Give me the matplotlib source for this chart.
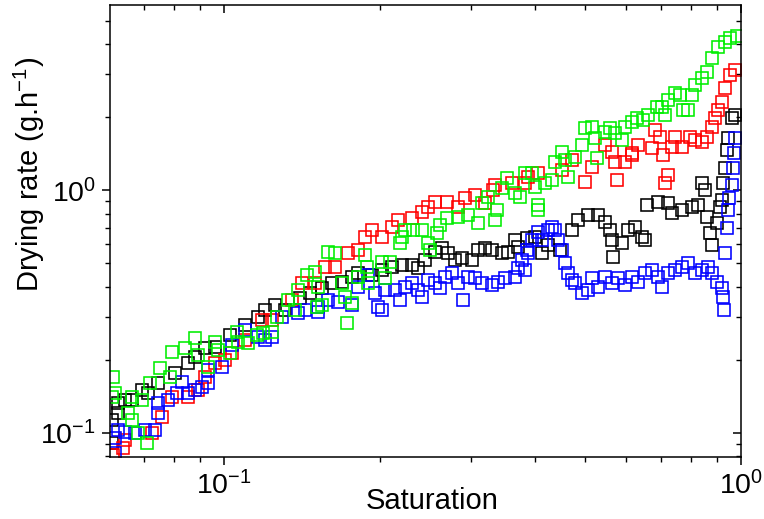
import matplotlib
matplotlib.use("Agg")
import matplotlib.pyplot as plt
from matplotlib.ticker import LogLocator, NullFormatter, FixedLocator

plt.rcParams['font.family'] = ['Liberation Sans', 'DejaVu Sans']
plt.rcParams['mathtext.fontset'] = 'custom'
plt.rcParams['mathtext.rm'] = 'Liberation Sans'
plt.rcParams['mathtext.it'] = 'Liberation Sans:italic'
plt.rcParams['mathtext.bf'] = 'Liberation Sans:bold'

# ---- data (Saturation, drying rate g/h) ----
black_s = [0.0607, 0.0607, 0.0624, 0.0624, 0.0644, 0.0664, 0.0694, 0.0713, 0.0746, 0.0804,
           0.0852, 0.0879, 0.0919, 0.0961, 0.1027, 0.1098, 0.1164, 0.1200, 0.1256, 0.1313,
           0.1403, 0.1467, 0.1548, 0.1618, 0.1692, 0.1769, 0.1817, 0.1934, 0.2022, 0.2113,
           0.2210, 0.2311, 0.2373, 0.2448, 0.2559, 0.2640, 0.2713, 0.2799, 0.2887, 0.3018,
           0.3100, 0.3198, 0.3299, 0.3450, 0.3543, 0.3655, 0.3704, 0.3856, 0.3996, 0.4122,
           0.4234, 0.4467, 0.4711, 0.4839, 0.5058, 0.5288, 0.5458, 0.5580, 0.5630, 0.5655,
           0.5888, 0.6046, 0.6237, 0.6435, 0.6521, 0.6580, 0.6911, 0.7224, 0.7355, 0.7690,
           0.8037, 0.8255, 0.8405, 0.8518, 0.8593, 0.8710, 0.8788, 0.8987, 0.9108, 0.9190,
           0.9230, 0.9313, 0.9395, 0.9438, 0.9607, 0.9736]
black_r = [0.113, 0.091, 0.121, 0.133, 0.137, 0.137, 0.150, 0.146, 0.161, 0.177,
           0.194, 0.206, 0.224, 0.226, 0.253, 0.278, 0.300, 0.321, 0.336, 0.321,
           0.359, 0.377, 0.395, 0.414, 0.418, 0.439, 0.456, 0.447, 0.469, 0.482,
           0.491, 0.491, 0.478, 0.515, 0.556, 0.577, 0.551, 0.515, 0.525, 0.515,
           0.566, 0.577, 0.566, 0.551, 0.556, 0.623, 0.583, 0.635, 0.641, 0.551,
           0.594, 0.566, 0.684, 0.753, 0.789, 0.789, 0.739, 0.684, 0.623, 0.530,
           0.605, 0.684, 0.704, 0.641, 0.623, 0.868, 0.893, 0.884, 0.804, 0.827,
           0.851, 0.868, 1.069, 1.000, 0.774, 0.665, 0.594, 0.731, 0.851, 0.910,
           1.069, 1.232, 1.461, 1.637, 1.978, 2.035]

red_s = [0.0610, 0.0638, 0.0644, 0.0726, 0.0759, 0.0794, 0.0852, 0.0891, 0.0919, 0.0961,
         0.1005, 0.1037, 0.1098, 0.1185, 0.1239, 0.1354, 0.1416, 0.1500, 0.1569, 0.1640,
         0.1737, 0.1817, 0.1874, 0.1934, 0.2022, 0.2113, 0.2171, 0.2311, 0.2416, 0.2481,
         0.2559, 0.2701, 0.2836, 0.2926, 0.3059, 0.3198, 0.3314, 0.3344, 0.3607, 0.3822,
         0.3873, 0.4050, 0.4506, 0.4711, 0.4991, 0.5149, 0.5458, 0.5630, 0.5705, 0.5757,
         0.5967, 0.6154, 0.6154, 0.6321, 0.6729, 0.6820, 0.6972, 0.7066, 0.7129, 0.7224,
         0.7355, 0.7455, 0.7690, 0.7967, 0.8147, 0.8405, 0.8593, 0.8788, 0.8906, 0.9027,
         0.9190, 0.9313, 0.9522, 0.9736]
red_r = [0.0812, 0.0868, 0.0936, 0.100, 0.116, 0.141, 0.141, 0.150, 0.170, 0.194,
         0.200, 0.213, 0.241, 0.292, 0.292, 0.353, 0.414, 0.414, 0.482, 0.482,
         0.551, 0.566, 0.641, 0.684, 0.641, 0.704, 0.753, 0.767, 0.812, 0.851,
         0.893, 0.893, 0.851, 0.927, 0.954, 0.884, 1.000, 1.048, 1.069, 1.069,
         1.131, 1.175, 1.209, 1.329, 1.079, 1.243, 1.532, 1.433, 1.304, 1.099,
         1.304, 1.420, 1.393, 1.532, 1.489, 1.766, 1.653, 1.393, 1.069, 1.153,
         1.503, 1.653, 1.503, 1.653, 1.606, 1.576, 1.653, 1.816, 1.978, 2.134,
         2.302, 2.629, 2.973, 3.117]

green_s = [0.0607, 0.0610, 0.0616, 0.0653, 0.0664, 0.0664, 0.0682, 0.0694, 0.0710, 0.0719,
           0.0752, 0.0787, 0.0794, 0.0841, 0.0879, 0.0891, 0.0932, 0.0961, 0.0974, 0.1027,
           0.1060, 0.1065, 0.1113, 0.1158, 0.1190, 0.1239, 0.1266, 0.1330, 0.1372, 0.1391,
           0.1447, 0.1500, 0.1514, 0.1520, 0.1548, 0.1589, 0.1640, 0.1692, 0.1714, 0.1730,
           0.1769, 0.1817, 0.1874, 0.1891, 0.1899, 0.2022, 0.2049, 0.2095, 0.2190, 0.2210,
           0.2240, 0.2321, 0.2416, 0.2481, 0.2503, 0.2583, 0.2618, 0.2701, 0.2836, 0.2965,
           0.3100, 0.3156, 0.3242, 0.3344, 0.3374, 0.3450, 0.3527, 0.3655, 0.3737, 0.3822,
           0.3943, 0.3996, 0.4050, 0.4050, 0.4178, 0.4311, 0.4369, 0.4506, 0.4566, 0.4628,
           0.4775, 0.4926, 0.4991, 0.5149, 0.5219, 0.5266, 0.5458, 0.5580, 0.5705, 0.5888,
           0.5967, 0.6154, 0.6293, 0.6464, 0.6608, 0.6879, 0.7034, 0.7129, 0.7224, 0.7455,
           0.7621, 0.7724, 0.7898, 0.8037, 0.8147, 0.8405, 0.8593, 0.8788, 0.9027, 0.9313,
           0.9522, 0.9824]
green_r = [0.141, 0.170, 0.146, 0.121, 0.141, 0.113, 0.100, 0.137, 0.0910, 0.161,
           0.185, 0.170, 0.216, 0.224, 0.246, 0.209, 0.187, 0.237, 0.220, 0.213,
           0.260, 0.237, 0.235, 0.253, 0.258, 0.260, 0.300, 0.353, 0.321, 0.388,
           0.447, 0.460, 0.330, 0.399, 0.336, 0.556, 0.551, 0.414, 0.363, 0.284,
           0.343, 0.439, 0.540, 0.482, 0.414, 0.505, 0.434, 0.505, 0.605, 0.641,
           0.684, 0.684, 0.684, 0.605, 0.566, 0.665, 0.718, 0.767, 0.774, 0.789,
           0.731, 0.884, 0.936, 0.753, 0.827, 1.019, 1.120, 0.972, 0.936, 1.175,
           1.175, 1.029, 0.868, 0.827, 1.069, 1.099, 1.304, 1.433, 1.329, 1.131,
           1.367, 1.532, 1.799, 1.816, 1.637, 1.354, 1.732, 1.799, 1.717, 1.606,
           1.816, 1.905, 1.978, 1.941, 2.035, 2.195, 2.195, 2.035, 2.346, 2.507,
           2.460, 2.134, 2.134, 2.460, 2.705, 2.890, 3.059, 3.493, 3.877, 4.064,
           4.222, 4.342]

blue_s = [0.0616, 0.0616, 0.0624, 0.0644, 0.0673, 0.0704, 0.0736, 0.0746, 0.0746, 0.0780,
          0.0812, 0.0830, 0.0852, 0.0879, 0.0907, 0.0932, 0.0932, 0.0992, 0.1037, 0.1098,
          0.1164, 0.1200, 0.1239, 0.1295, 0.1391, 0.1435, 0.1520, 0.1520, 0.1589, 0.1662,
          0.1769, 0.1817, 0.1899, 0.1960, 0.1986, 0.2022, 0.2049, 0.2142, 0.2190, 0.2240,
          0.2311, 0.2373, 0.2416, 0.2481, 0.2559, 0.2618, 0.2676, 0.2761, 0.2836, 0.2899,
          0.2965, 0.3059, 0.3156, 0.3299, 0.3388, 0.3496, 0.3655, 0.3704, 0.3771, 0.3822,
          0.3856, 0.3873, 0.3943, 0.4050, 0.4122, 0.4234, 0.4311, 0.4369, 0.4428, 0.4506,
          0.4566, 0.4628, 0.4711, 0.4775, 0.4926, 0.5058, 0.5149, 0.5288, 0.5458, 0.5630,
          0.5782, 0.5967, 0.6154, 0.6321, 0.6521, 0.6729, 0.6911, 0.7034, 0.7224, 0.7455,
          0.7690, 0.7898, 0.8147, 0.8405, 0.8633, 0.8788, 0.8987, 0.9190, 0.9230, 0.9271,
          0.9313, 0.9395, 0.9438, 0.9480, 0.9607, 0.9650, 0.9694, 0.9736]
blue_r = [0.0954, 0.0827, 0.103, 0.101, 0.100, 0.103, 0.103, 0.121, 0.133, 0.137,
          0.146, 0.162, 0.146, 0.150, 0.155, 0.161, 0.182, 0.187, 0.230, 0.265,
          0.248, 0.241, 0.248, 0.300, 0.312, 0.321, 0.315, 0.330, 0.353, 0.346,
          0.336, 0.399, 0.447, 0.377, 0.330, 0.321, 0.388, 0.388, 0.353, 0.399,
          0.414, 0.388, 0.363, 0.426, 0.414, 0.395, 0.439, 0.456, 0.414, 0.353,
          0.439, 0.434, 0.414, 0.406, 0.418, 0.434, 0.439, 0.478, 0.515, 0.469,
          0.566, 0.551, 0.623, 0.672, 0.623, 0.684, 0.704, 0.684, 0.623, 0.566,
          0.501, 0.456, 0.426, 0.414, 0.377, 0.388, 0.434, 0.399, 0.439, 0.414,
          0.434, 0.406, 0.439, 0.418, 0.456, 0.469, 0.439, 0.399, 0.456, 0.469,
          0.482, 0.501, 0.456, 0.469, 0.482, 0.456, 0.418, 0.395, 0.363, 0.321,
          0.551, 0.698, 0.827, 0.927, 1.048, 1.232, 1.420, 1.637]

series = [
    (black_s, black_r, '#000000'),
    (red_s, red_r, '#ff0000'),
    (blue_s, blue_r, '#0000ff'),
    (green_s, green_r, '#00ee00'),
]

fig = plt.figure(figsize=(7.64, 5.19), dpi=100)
ax = fig.add_axes([110/764, 62/519, 631/764, 452/519])

for s, r, c in series:
    ax.plot(s, r, linestyle='none', marker='s', markersize=8.0,
            markerfacecolor='none', markeredgecolor=c, markeredgewidth=1.15)

ax.set_xscale('log')
ax.set_yscale('log')
ax.set_xlim(0.0602, 1.0)
ax.set_ylim(0.0796, 5.8)

ax.xaxis.set_major_locator(FixedLocator([0.1, 1.0]))
ax.yaxis.set_major_locator(FixedLocator([0.1, 1.0]))
ax.xaxis.set_minor_locator(LogLocator(base=10, subs=range(2, 10)))
ax.yaxis.set_minor_locator(LogLocator(base=10, subs=range(2, 10)))
ax.xaxis.set_minor_formatter(NullFormatter())
ax.yaxis.set_minor_formatter(NullFormatter())
ax.set_xticklabels([r'$10^{-1}$', r'$10^{0}$'])
ax.set_yticklabels([r'$10^{-1}$', r'$10^{0}$'])

for sp in ax.spines.values():
    sp.set_linewidth(1.1)

ax.tick_params(which='major', direction='out', length=6, width=1.1, labelsize=20.5, pad=4,
               top=False, right=False)
ax.tick_params(which='minor', direction='out', length=3.5, width=1.0, top=False, right=False)
# mirrored inward ticks on top and right
ax.tick_params(axis='x', which='both', top=True, labeltop=False)
ax.tick_params(axis='y', which='both', right=True, labelright=False)
for t in ax.xaxis.get_major_ticks() + ax.xaxis.get_minor_ticks():
    t.tick2line.set_marker(3)  # inward at top
for t in ax.yaxis.get_major_ticks() + ax.yaxis.get_minor_ticks():
    t.tick2line.set_marker(0)  # inward at right

ax.set_xlabel('Saturation', fontsize=21)
ax.xaxis.set_label_coords(0.51, -0.066)
ax.set_ylabel(r'Drying rate (g.h$^{-1}$)', fontsize=21)
ax.yaxis.set_label_coords(-0.100, 0.625)

fig.savefig('out.png', dpi=100)
